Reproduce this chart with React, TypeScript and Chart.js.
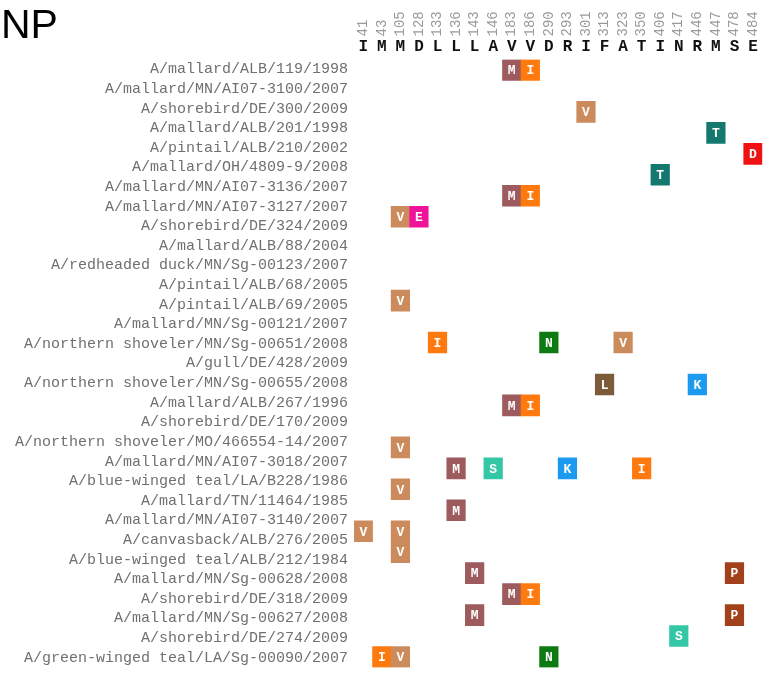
import React, { useEffect, useRef } from 'react';
import { Chart, registerables } from 'chart.js';

Chart.register(...registerables);

const positions = ['41', '43', '105', '128', '133', '136', '143', '146', '183', '186', '290', '293', '301', '313', '323', '350', '406', '417', '446', '447', '478', '484'];
const consensus = ['I', 'M', 'M', 'D', 'L', 'L', 'L', 'A', 'V', 'V', 'D', 'R', 'I', 'F', 'A', 'T', 'I', 'N', 'R', 'M', 'S', 'E'];

const strains = [
  'A/mallard/ALB/119/1998',
  'A/mallard/MN/AI07-3100/2007',
  'A/shorebird/DE/300/2009',
  'A/mallard/ALB/201/1998',
  'A/pintail/ALB/210/2002',
  'A/mallard/OH/4809-9/2008',
  'A/mallard/MN/AI07-3136/2007',
  'A/mallard/MN/AI07-3127/2007',
  'A/shorebird/DE/324/2009',
  'A/mallard/ALB/88/2004',
  'A/redheaded duck/MN/Sg-00123/2007',
  'A/pintail/ALB/68/2005',
  'A/pintail/ALB/69/2005',
  'A/mallard/MN/Sg-00121/2007',
  'A/northern shoveler/MN/Sg-00651/2008',
  'A/gull/DE/428/2009',
  'A/northern shoveler/MN/Sg-00655/2008',
  'A/mallard/ALB/267/1996',
  'A/shorebird/DE/170/2009',
  'A/northern shoveler/MO/466554-14/2007',
  'A/mallard/MN/AI07-3018/2007',
  'A/blue-winged teal/LA/B228/1986',
  'A/mallard/TN/11464/1985',
  'A/mallard/MN/AI07-3140/2007',
  'A/canvasback/ALB/276/2005',
  'A/blue-winged teal/ALB/212/1984',
  'A/mallard/MN/Sg-00628/2008',
  'A/shorebird/DE/318/2009',
  'A/mallard/MN/Sg-00627/2008',
  'A/shorebird/DE/274/2009',
  'A/green-winged teal/LA/Sg-00090/2007',
];

// mutation cells: grid row, position, residue
const gridRowLabels = ['0', '1', '2', '3', '4', '5', '6', '7', '8', '9', '10', '11', '12', '13', '14', '15', '16', '17', '18', '19', '20', '21', '22', '23', '24', '25', '26', '27', '28'];
const mutRows = [0, 0, 2, 3, 4, 5, 6, 6, 7, 7, 11, 13, 13, 13, 15, 15, 16, 16, 18, 19, 19, 19, 19, 20, 21, 22, 22, 23, 24, 24, 25, 25, 26, 26, 27, 28, 28, 28];
const mutPositions = ['183', '186', '301', '447', '484', '406', '183', '186', '105', '128', '105', '133', '290', '323', '313', '446', '183', '186', '105', '136', '146', '293', '350', '105', '136', '41', '105', '105', '143', '478', '183', '186', '143', '478', '417', '43', '105', '290'];
const mutResidues = ['M', 'I', 'V', 'T', 'D', 'T', 'M', 'I', 'V', 'E', 'V', 'I', 'N', 'V', 'L', 'K', 'M', 'I', 'V', 'M', 'S', 'K', 'I', 'V', 'M', 'V', 'V', 'V', 'M', 'P', 'M', 'I', 'M', 'P', 'S', 'I', 'V', 'N'];

const residueColors: Record<string, string> = {
  M: '#9E5B5E',
  I: '#FF7A0E',
  V: '#CC8B5C',
  T: '#14786F',
  D: '#F01212',
  E: '#F0139A',
  N: '#0E7A12',
  L: '#7B5B3A',
  K: '#1C9AF0',
  S: '#33C7A5',
  P: '#A2401B',
};

const MONO = '"Liberation Mono", "DejaVu Sans Mono", monospace';

const letterPlugin = {
  id: 'cellLetters',
  afterDatasetsDraw(chart: any) {
    const ctx = chart.ctx;
    const meta = chart.getDatasetMeta(0);
    ctx.save();
    ctx.font = `bold 13px ${MONO}`;
    ctx.fillStyle = '#ffffff';
    ctx.textAlign = 'center';
    ctx.textBaseline = 'middle';
    meta.data.forEach((el: any, i: number) => {
      const p = el.getProps(['x', 'y', 'base'], true);
      ctx.fillText(mutResidues[i], (p.x + p.base) / 2, p.y + 1);
    });
    ctx.restore();
  },
};

function zeroPad(s: any) {
  s.paddingTop = 0;
  s.paddingBottom = 0;
  s.paddingLeft = 0;
  s.paddingRight = 0;
}

export default function App() {
  const ref = useRef<HTMLCanvasElement>(null);

  useEffect(() => {
    document.body.style.margin = '0';
    const data = mutRows.map((r, i) => {
      const c = positions.indexOf(mutPositions[i]);
      return { y: gridRowLabels[r], x: [c - 0.5, c + 0.5] };
    });
    const chart = new Chart(ref.current as HTMLCanvasElement, {
      type: 'bar',
      data: {
        datasets: [
          {
            data: data as any,
            backgroundColor: mutResidues.map((r) => residueColors[r]),
            borderWidth: 0,
            barPercentage: 1,
            categoryPercentage: 1,
            xAxisID: 'x',
            yAxisID: 'y',
          },
        ],
      },
      options: {
        indexAxis: 'y',
        responsive: false,
        animation: false,
        layout: { padding: { top: 0, left: 0, right: 0.7, bottom: 5.5 } },
        plugins: { legend: { display: false }, tooltip: { enabled: false }, title: { display: false } },
        scales: {
          x: { type: 'linear', min: -0.5, max: 21.5, display: false },
          y: { type: 'category', labels: gridRowLabels, offset: true, display: false },
          yl: {
            type: 'category',
            position: 'left',
            labels: strains,
            offset: true,
            grid: { display: false, drawTicks: false },
            border: { display: false },
            ticks: { autoSkip: false, padding: 6, color: '#707070', font: { family: MONO, size: 15 } },
            afterFit(s: any) {
              s.width = 354;
              zeroPad(s);
            },
          },
          xCons: {
            type: 'category',
            position: 'top',
            labels: consensus,
            offset: true,
            weight: 0,
            grid: { display: false, drawTicks: false },
            border: { display: false },
            ticks: { autoSkip: false, maxRotation: 0, minRotation: 0, padding: 3, color: '#111111', font: { family: MONO, size: 16, weight: 'bold' } },
            afterFit(s: any) {
              s.height = 22;
              zeroPad(s);
            },
          },
          xNum: {
            type: 'category',
            position: 'top',
            labels: positions,
            offset: true,
            weight: 1,
            grid: { display: false, drawTicks: false },
            border: { display: false },
            ticks: { autoSkip: false, minRotation: 90, maxRotation: 90, padding: 1, labelOffset: 16.8, color: '#9a9a9a', font: { family: MONO, size: 14 } },
            afterFit(s: any) {
              s.height = 37.5;
              zeroPad(s);
            },
          },
        } as any,
      },
      plugins: [letterPlugin],
    });
    return () => chart.destroy();
  }, []);

  return (
    <div style={{ position: 'relative', width: 763, height: 673 }}>
      <canvas ref={ref} width={763} height={673} style={{ display: 'block' }} />
      <div
        style={{
          position: 'absolute',
          left: 1,
          top: 1,
          fontFamily: '"Liberation Sans", Arial, sans-serif',
          fontSize: 41,
          lineHeight: '46px',
          color: '#000',
        }}
      >
        NP
      </div>
    </div>
  );
}
